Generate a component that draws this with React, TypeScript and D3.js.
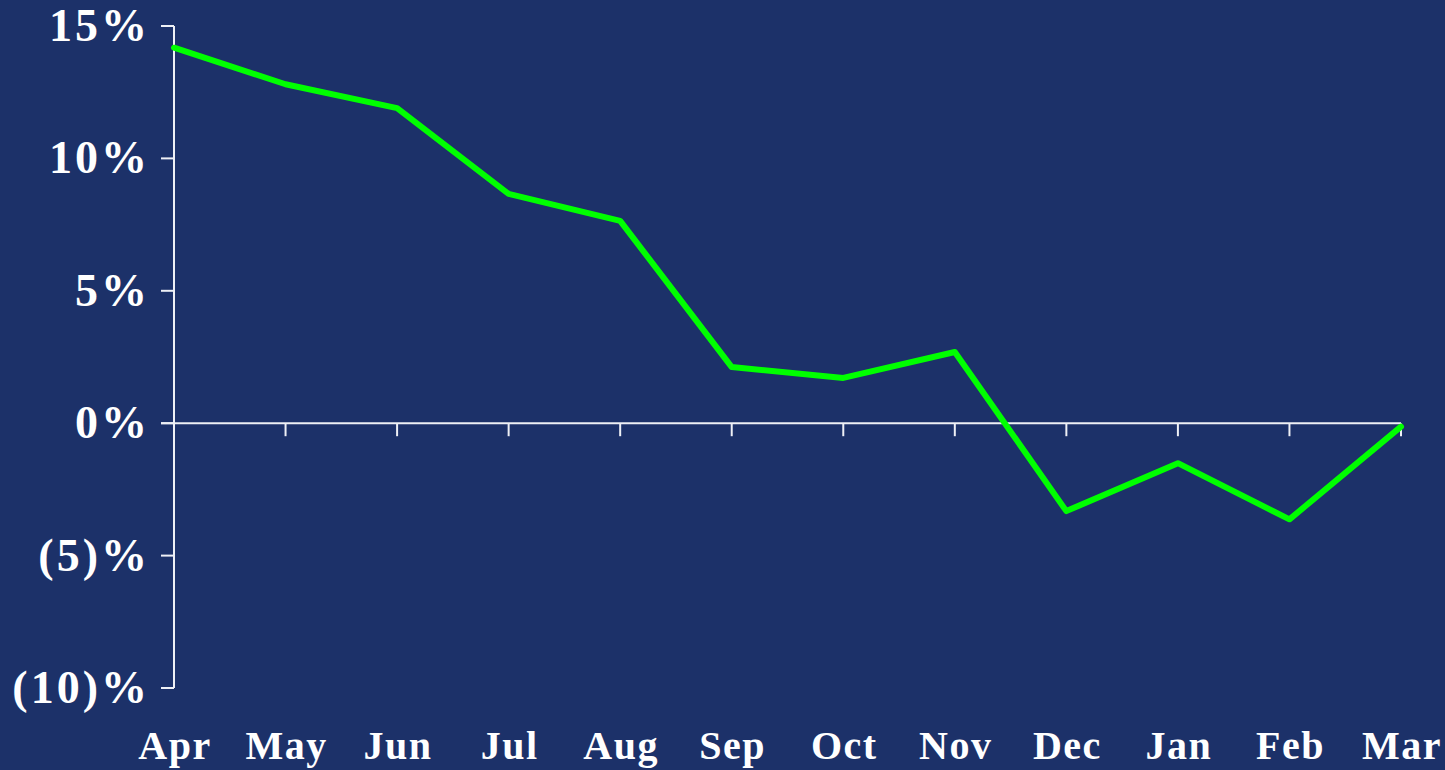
import React from "react";
import * as d3 from "d3";

const months = ["Apr", "May", "Jun", "Jul", "Aug", "Sep", "Oct", "Nov", "Dec", "Jan", "Feb", "Mar"];
const values = [14.18, 12.8, 11.9, 8.66, 7.64, 2.12, 1.71, 2.69, -3.32, -1.51, -3.63, -0.13];
const yTicks = [15, 10, 5, 0, -5, -10];
const yTickLabels = ["15%", "10%", "5%", "0%", "(5)%", "(10)%"];

const W = 1445;
const H = 770;
const BG = "#1c3169";
const AXIS = "#eef0f6";
const LINE = "#00ff00";
const FONT = "'Liberation Serif', 'Times New Roman', serif";

export default function App() {
  const x = d3.scalePoint<string>().domain(months).range([174, 1401]);
  const y = d3.scaleLinear().domain([-10, 15]).range([688, 26]);
  const line = d3
    .line<number>()
    .x((_, i) => x(months[i]) as number)
    .y((d) => y(d));

  const axisX = 174;
  const y0 = y(0);

  return (
    <svg
      width={W}
      height={H}
      style={{ position: "absolute", left: 0, top: 0, display: "block" }}
    >
      <rect x={0} y={0} width={W} height={H} fill={BG} />
      {/* Y axis */}
      <line x1={axisX} x2={axisX} y1={y(15)} y2={y(-10)} stroke={AXIS} strokeWidth={2} />
      {yTicks.map((t, i) => (
        <g key={t}>
          <line x1={axisX - 13} x2={axisX} y1={y(t)} y2={y(t)} stroke={AXIS} strokeWidth={2} />
          <text
            x={150}
            y={y(t) + 15}
            textAnchor="end"
            fill="#ffffff"
            fontFamily={FONT}
            fontWeight="bold"
            fontSize={46}
            letterSpacing={3}
          >
            {yTickLabels[i]}
          </text>
        </g>
      ))}
      {/* Zero line */}
      <line x1={axisX - 13} x2={x("Mar") as number} y1={y0} y2={y0} stroke={AXIS} strokeWidth={2} />
      {months.slice(1).map((m) => (
        <line
          key={m}
          x1={x(m) as number}
          x2={x(m) as number}
          y1={y0}
          y2={y0 + 13}
          stroke={AXIS}
          strokeWidth={2}
        />
      ))}
      {/* X labels */}
      {months.map((m) => (
        <text
          key={m}
          x={(x(m) as number) + 1}
          y={759}
          textAnchor="middle"
          fill="#ffffff"
          fontFamily={FONT}
          fontWeight="bold"
          fontSize={40}
          letterSpacing={1.5}
        >
          {m}
        </text>
      ))}
      {/* Data line */}
      <path
        d={line(values) || ""}
        fill="none"
        stroke={LINE}
        strokeWidth={6}
        strokeLinejoin="round"
        strokeLinecap="round"
      />
    </svg>
  );
}
